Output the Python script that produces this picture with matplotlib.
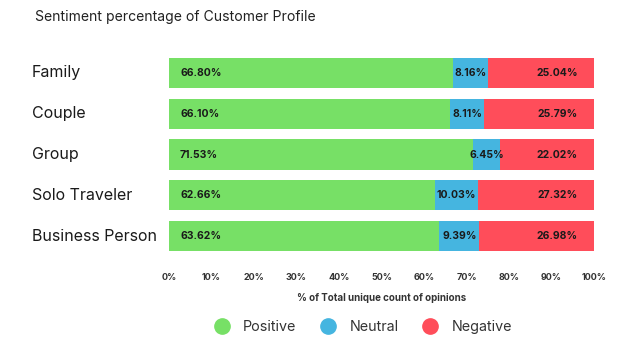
import numpy as np
import matplotlib.pyplot as plt
from matplotlib import transforms
from matplotlib.lines import Line2D

plt.rcParams["font.family"] = ["Inter", "DejaVu Sans"]

categories = ["Family", "Couple", "Group", "Solo Traveler", "Business Person"]
positive = [66.80, 66.10, 71.53, 62.66, 63.62]
neutral = [8.16, 8.11, 6.45, 10.03, 9.39]
negative = [25.04, 25.79, 22.02, 27.32, 26.98]

colors = {"Positive": "#77E066", "Neutral": "#45B5E0", "Negative": "#FF4D5A"}

fig = plt.figure(figsize=(6.18, 3.5), dpi=100)
ax = fig.add_axes([169 / 618, 1 - 256.4 / 350, (594 - 169) / 618, (256.4 - 52.6) / 350])

y = np.arange(len(categories))
pos = np.array(positive)
neu = np.array(neutral)
neg = np.array(negative)
h = 0.74
ax.barh(y, pos, height=h, color=colors["Positive"])
ax.barh(y, neu, left=pos, height=h, color=colors["Neutral"])
ax.barh(y, neg, left=pos + neu, height=h, color=colors["Negative"])

tkw = dict(fontsize=7.5, fontweight="bold", color="#1a1a1a", va="center")
for i in range(len(categories)):
    ax.text(2.6, y[i], f"{pos[i]:.2f}%", ha="left", **tkw)
    ax.text(pos[i] + neu[i] / 2, y[i], f"{neu[i]:.2f}%", ha="center", **tkw)
    ax.text(96.2, y[i], f"{neg[i]:.2f}%", ha="right", **tkw)

ax.set_xlim(0, 100)
ax.set_ylim(len(categories) - 0.5, -0.5)
ax.set_yticks([])
ax.set_xticks(np.arange(0, 101, 10))
ax.set_xticklabels([f"{v}%" for v in range(0, 101, 10)], fontsize=6.5, fontweight="bold", color="#333333")
ax.tick_params(axis="x", length=0, pad=12)
for s in ax.spines.values():
    s.set_visible(False)
ax.set_xlabel("% of Total unique count of opinions", fontsize=7, fontweight="bold", color="#333333", labelpad=8)

# category labels, left aligned
tr = transforms.blended_transform_factory(fig.transFigure, ax.transData)
for i, c in enumerate(categories):
    ax.text(32 / 618, y[i], c, transform=tr, ha="left", va="center", fontsize=11.5, color="#1a1a1a")

fig.text(35 / 618, 1 - 17 / 350, "Sentiment percentage of Customer Profile",
         ha="left", va="center", fontsize=10.1, color="#222222")

handles = [Line2D([], [], marker="o", linestyle="", markersize=11, color=colors[k]) for k in colors]
fig.legend(handles, list(colors.keys()), loc="center", bbox_to_anchor=(0.582, 1 - 327 / 350),
           ncol=3, frameon=False, fontsize=10.3, handletextpad=0.5, columnspacing=1.2,
           labelcolor="#333333")

fig.savefig("out.png", dpi=100)
